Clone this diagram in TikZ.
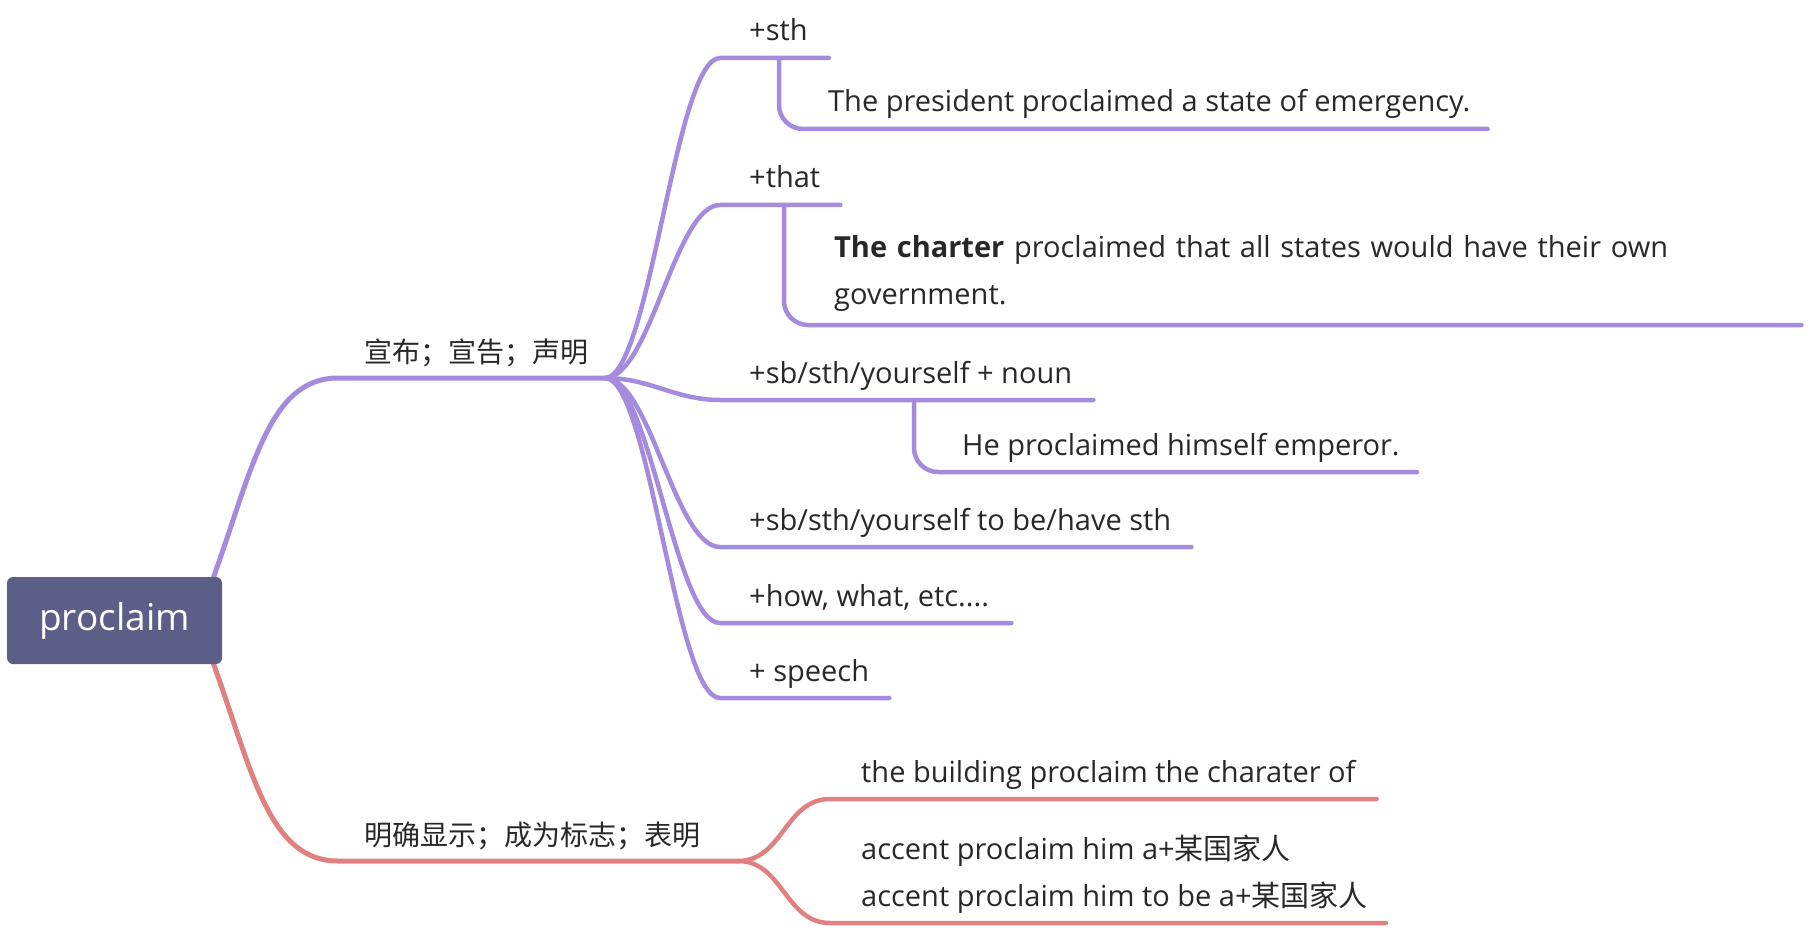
\documentclass[tikz,border=0pt]{standalone}
\usepackage{fontspec}
\setmainfont{Open Sans}
\newfontfamily\cjk{Noto Sans CJK SC}
\usetikzlibrary{positioning,backgrounds}
\definecolor{rootblue}{RGB}{91,95,135}
\definecolor{branchpurple}{RGB}{164,139,222}
\definecolor{branchred}{RGB}{224,128,128}
\definecolor{inkgray}{RGB}{40,40,40}

\begin{document}
\begin{tikzpicture}[
    x=1pt, y=-1pt,
    rootbox/.style={fill=rootblue, rounded corners=6pt, minimum width=215pt, minimum height=87pt, inner sep=0, text=white, font=\fontsize{37}{42}\selectfont},
    topic/.style={inner sep=0, text=inkgray, align=left, font=\fontsize{29}{47}\selectfont},
    zhtopic/.style={topic, font=\cjk\fontsize{28}{47}\selectfont},
    lbl/.style={anchor=base west},
    mainbranch/.style={line width=5pt, line cap=round},
    subbranch/.style={line width=4.5pt, line cap=round},
    examplebranch/.style={line width=4.5pt, line cap=round, rounded corners=24pt}
]
  \useasboundingbox (0,0) rectangle (1808,928);

  % Root
  \node (root) [rootbox] at (114.5,620.5) {proclaim};

  % Branch points
  \coordinate (m1) at (338,378);
  \coordinate (f1) at (605,378);
  \coordinate (m2) at (338,861);
  \coordinate (f2) at (738,861);
  \coordinate (b1) at (720,58);
  \coordinate (b2) at (720,205);
  \coordinate (b3) at (720,400);
  \coordinate (b4) at (720,547);
  \coordinate (b5) at (720,623);
  \coordinate (b6) at (720,698);
  \coordinate (k1) at (779,129);
  \coordinate (k2) at (784,325);
  \coordinate (k3) at (914,472);
  \coordinate (c1) at (830,799);
  \coordinate (c2) at (830,923);

  % Topics
  \node (mt1) [zhtopic, above right=16pt and 26pt of m1, lbl] {宣布；宣告；声明};
  \node (mt2) [zhtopic, above right=16pt and 26pt of m2, lbl] {明确显示；成为标志；表明};

  \node (t1) [topic, above right=17pt and 29pt of b1, lbl] {+sth};
  \node (t2) [topic, above right=17pt and 29pt of b2, lbl] {+that};
  \node (t3) [topic, above right=17pt and 29pt of b3, lbl] {+sb/sth/yourself + noun};
  \node (t4) [topic, above right=17pt and 29pt of b4, lbl] {+sb/sth/yourself to be/have sth};
  \node (t5) [topic, above right=17pt and 29pt of b5, lbl] {+how, what, etc....};
  \node (t6) [topic, above right=17pt and 29pt of b6, lbl] {+ speech};

  \node (x1) [topic, above right=17pt and 49pt of k1, lbl] {The president proclaimed a state of emergency.};
  \node (x2) [topic, above right=67pt and 50pt of k2, lbl, text width=951pt] {\textbf{The charter} proclaimed that all states would have their own\\government.};
  \node (x3) [topic, above right=17pt and 48pt of k3, lbl] {He proclaimed himself emperor.};

  \node (y1) [topic, above right=17pt and 31pt of c1, lbl] {the building proclaim the charater of};
  \node (y2) [topic, above right=17pt and 31pt of c2, lbl] {accent proclaim him a+{\cjk 某国家人}\\accent proclaim him to be a+{\cjk 某国家人}};

  % Connectors
  \begin{scope}[on background layer]
    \draw [mainbranch, branchpurple] ([xshift=-10pt,yshift=-4pt]root.north east) .. controls +(40,-110) and +(-70,0) .. (m1) -- (f1);
    \draw [mainbranch, branchred] ([xshift=-10pt,yshift=4pt]root.south east) .. controls +(40,110) and +(-70,0) .. (m2) -- (f2);
  \end{scope}

  \draw [subbranch, branchpurple] (f1) .. controls +(45,0) and +(-45,0) .. (b1) -- ([xshift=21pt]b1 -| t1.east);
  \draw [subbranch, branchpurple] (f1) .. controls +(45,0) and +(-45,0) .. (b2) -- ([xshift=20pt]b2 -| t2.east);
  \draw [subbranch, branchpurple] (f1) .. controls +(45,0) and +(-45,0) .. (b3) -- ([xshift=21pt]b3 -| t3.east);
  \draw [subbranch, branchpurple] (f1) .. controls +(45,0) and +(-45,0) .. (b4) -- ([xshift=20pt]b4 -| t4.east);
  \draw [subbranch, branchpurple] (f1) .. controls +(45,0) and +(-45,0) .. (b5) -- ([xshift=22pt]b5 -| t5.east);
  \draw [subbranch, branchpurple] (f1) .. controls +(45,0) and +(-45,0) .. (b6) -- ([xshift=20pt]b6 -| t6.east);

  \draw [examplebranch, branchpurple] (k1 |- b1) |- ([xshift=17pt]k1 -| x1.east);
  \draw [examplebranch, branchpurple] (k2 |- b2) |- ([xshift=16pt]k2 -| x2.east);
  \draw [examplebranch, branchpurple] (k3 |- b3) |- ([xshift=17pt]k3 -| x3.east);

  \draw [subbranch, branchred] (f2) .. controls +(45,0) and +(-45,0) .. (c1) -- ([xshift=21pt]c1 -| y1.east);
  \draw [subbranch, branchred] (f2) .. controls +(45,0) and +(-45,0) .. (c2) -- ([xshift=18pt]c2 -| y2.east);
\end{tikzpicture}
\end{document}
